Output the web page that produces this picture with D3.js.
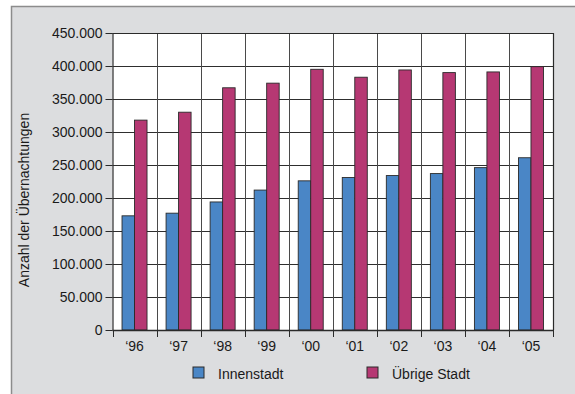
<!DOCTYPE html>
<html>
<head>
<meta charset="utf-8">
<script src="https://cdn.jsdelivr.net/npm/d3@7"></script>
<style>
  html, body { margin: 0; padding: 0; background: #fff; }
  svg { display: block; }
  text { font-family: "Liberation Sans", Arial, sans-serif; fill: #1a1a1a; }
</style>
</head>
<body>
<svg id="chart" width="575" height="394"></svg>
<script>
// Overnight stays per year, city centre vs. rest of the city
const years = ["\u201896", "\u201897", "\u201898", "\u201899", "\u201800", "\u201801", "\u201802", "\u201803", "\u201804", "\u201805"];
const innenstadt = [173000, 177000, 194000, 212000, 226000, 231000, 234000, 237000, 246000, 261000];
const uebrigeStadt = [318000, 330000, 367000, 374000, 395000, 383000, 394000, 390000, 391000, 399000];
const seriesNames = ["Innenstadt", "Übrige Stadt"];
const seriesColors = ["#4a86c6", "#b63873"];
const yTicks = [0, 50000, 100000, 150000, 200000, 250000, 300000, 350000, 400000, 450000];
const yTitle = "Anzahl der Übernachtungen";

const svg = d3.select("#chart");

// outer panel
svg.append("rect").attr("x", 11.5).attr("y", 6.5).attr("width", 580).attr("height", 400)
  .attr("fill", "#dcdddf").attr("stroke", "#8c8c8c").attr("stroke-width", 1.5);

const plot = { left: 112.5, right: 553, top: 33, bottom: 330 };

const x = d3.scaleBand().domain(years).range([plot.left, plot.right]).paddingInner(0).paddingOuter(0);
const y = d3.scaleLinear().domain([0, 450000]).range([plot.bottom, plot.top]);
const sub = d3.scaleBand().domain(seriesNames).range([0, 25]);
const de = d3.formatLocale({ decimal: ",", thousands: ".", grouping: [3], currency: ["", " €"] });
const fmt = de.format(",.0f");

// plot background
svg.append("rect").attr("x", plot.left).attr("y", plot.top)
  .attr("width", plot.right - plot.left).attr("height", plot.bottom - plot.top)
  .attr("fill", "#fff");

// grid lines
svg.append("g").selectAll("line").data(yTicks).join("line")
  .attr("x1", plot.left).attr("x2", plot.right)
  .attr("y1", d => Math.round(y(d)) + 0.5).attr("y2", d => Math.round(y(d)) + 0.5)
  .attr("stroke", "#2e2e2e").attr("stroke-width", 1);
svg.append("g").selectAll("line").data(years.slice(1)).join("line")
  .attr("x1", d => Math.round(x(d)) + 0.5).attr("x2", d => Math.round(x(d)) + 0.5)
  .attr("y1", plot.top).attr("y2", plot.bottom)
  .attr("stroke", "#4a4a4a").attr("stroke-width", 1);

// bars
const rows = years.map((yr, i) => ({ yr, vals: [innenstadt[i], uebrigeStadt[i]] }));
const groups = svg.append("g").selectAll("g").data(rows).join("g")
  .attr("transform", d => `translate(${x(d.yr) + (x.bandwidth() - 25) / 2},0)`);
groups.selectAll("rect").data(d => d.vals.map((v, k) => ({ v, k }))).join("rect")
  .attr("x", d => sub(seriesNames[d.k]))
  .attr("y", d => y(d.v))
  .attr("width", sub.bandwidth())
  .attr("height", d => y(0) - y(d.v))
  .attr("fill", d => seriesColors[d.k])
  .attr("stroke", "#2a2a2a").attr("stroke-width", 0.9);

// plot frame (top and right)
svg.append("path")
  .attr("d", `M${plot.left},${plot.top + 0.5}H${plot.right + 0.5}V${plot.bottom}`)
  .attr("fill", "none").attr("stroke", "#2a2a2a").attr("stroke-width", 1.2);

// axes
const yAxis = d3.axisLeft(y).tickValues(yTicks).tickFormat(fmt).tickSize(7).tickPadding(3);
const gy = svg.append("g").attr("transform", `translate(${plot.left},0)`).call(yAxis);
gy.select(".domain").attr("stroke", "#2a2a2a").attr("stroke-width", 1.2).attr("d", `M0.5,${plot.top}V${plot.bottom}`);
gy.selectAll(".tick line").attr("stroke", "#2a2a2a");
gy.selectAll(".tick text").attr("font-size", 14).attr("fill", "#1a1a1a")
  .attr("font-family", "Liberation Sans, Arial, sans-serif");

const xAxis = d3.axisBottom(x).tickSize(0).tickPadding(11);
const gx = svg.append("g").attr("transform", `translate(0,${plot.bottom})`).call(xAxis);
gx.select(".domain").attr("stroke", "#2a2a2a").attr("stroke-width", 1.5).attr("d", `M${plot.left},0.5H${plot.right + 0.5}`);
gx.selectAll(".tick text").attr("font-size", 14).attr("fill", "#1a1a1a")
  .attr("font-family", "Liberation Sans, Arial, sans-serif");
// category boundary ticks
svg.append("g").selectAll("line").data(years.map(d => x(d)).concat([plot.right])).join("line")
  .attr("x1", d => Math.round(d) + 0.5).attr("x2", d => Math.round(d) + 0.5)
  .attr("y1", plot.bottom).attr("y2", plot.bottom + 7)
  .attr("stroke", "#2a2a2a");

// y axis title
svg.append("text")
  .attr("transform", "translate(29,200) rotate(-90)")
  .attr("text-anchor", "middle").attr("font-size", 14)
  .text(yTitle);

// legend
const legendX = [193, 367];
const lg = svg.append("g").selectAll("g").data(seriesNames).join("g")
  .attr("transform", (d, i) => `translate(${legendX[i]},367)`);
lg.append("rect").attr("width", 11).attr("height", 11)
  .attr("fill", (d, i) => seriesColors[i]).attr("stroke", "#2a2a2a").attr("stroke-width", 1);
lg.append("text").attr("x", 25).attr("y", 11.5).attr("font-size", 14).text(d => d);
</script>
</body>
</html>
